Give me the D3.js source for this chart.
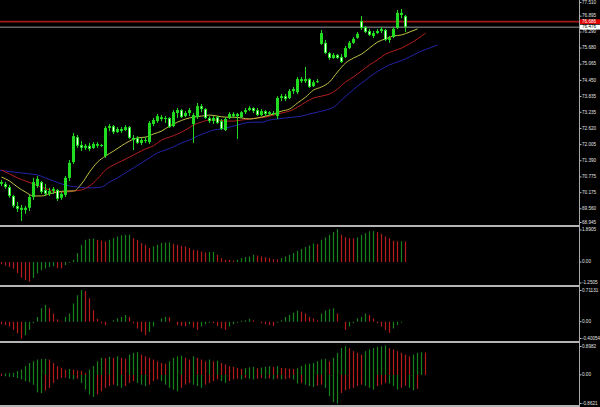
<!DOCTYPE html>
<html><head><meta charset="utf-8">
<script src="https://cdn.jsdelivr.net/npm/d3@7"></script>
<style>html,body{margin:0;padding:0;background:#000;overflow:hidden}svg{display:block}</style>
</head><body>
<svg id="c" width="600" height="407"></svg>
<script>
// ---------- DATA ----------
const openP=[70.58,70.51,70.39,70.05,69.67,69.60,69.52,69.60,70.01,70.43,
70.58,70.28,70.13,70.24,70.28,69.98,70.09,70.74,71.34,72.29,
71.99,71.88,71.96,71.88,72.03,71.96,71.57,72.64,72.71,72.48,
72.60,72.56,72.67,72.26,72.26,72.07,72.18,72.10,72.79,72.90,
73.05,72.98,73.02,72.71,73.21,73.32,73.09,73.21,72.79,73.05,
73.47,73.36,73.02,72.90,73.05,72.90,72.56,73.02,73.17,73.09,
73.05,73.24,73.32,73.40,73.32,73.13,73.28,73.17,73.21,73.09,
73.78,73.85,73.78,74.04,74.00,74.50,74.42,74.50,74.23,74.38,
75.84,75.88,75.49,75.30,75.42,75.34,75.34,75.68,75.88,76.07,
76.71,76.48,76.33,76.14,76.25,76.33,76.37,75.99,76.10,76.44,
77.02,76.90];
const highP=[70.66,70.58,70.47,70.09,69.82,69.71,69.67,70.09,70.74,70.81,
70.62,70.51,70.36,70.39,70.32,70.20,70.81,71.42,72.45,72.37,
72.14,72.03,72.07,72.10,72.10,72.03,72.71,72.79,72.75,72.67,
72.67,72.75,72.71,72.37,72.33,72.26,72.29,72.90,73.02,73.17,
73.13,73.09,73.05,73.32,73.40,73.36,73.28,73.40,73.21,73.59,
73.55,73.40,73.09,73.09,73.09,72.98,73.05,73.24,73.24,73.21,
73.28,73.40,73.47,73.43,73.40,73.36,73.32,73.28,73.28,73.85,
73.93,73.93,74.12,74.20,74.58,74.58,74.96,74.54,74.46,74.50,
76.37,75.99,75.53,75.49,75.45,75.45,75.76,75.95,76.10,76.29,
76.90,76.52,76.41,76.33,76.41,76.48,76.41,76.14,76.48,77.13,
77.17,76.94];
const lowP=[70.43,70.32,69.98,69.60,69.44,69.10,69.37,69.48,69.90,70.36,
70.13,70.05,70.05,70.13,69.86,69.90,70.01,70.62,71.27,71.88,
71.76,71.80,71.76,71.84,71.88,71.92,71.50,72.52,72.41,72.45,
72.45,72.52,72.22,71.80,72.03,71.99,72.07,72.03,72.71,72.83,
72.90,72.83,72.64,72.67,73.02,73.02,73.05,73.09,72.07,72.98,
73.24,72.98,72.83,72.79,72.79,72.56,72.52,72.98,73.02,72.22,
73.02,73.17,73.28,73.21,73.09,73.09,73.09,73.13,73.13,72.98,
73.66,73.66,73.74,73.93,73.93,74.35,74.35,74.16,74.20,74.35,
75.80,75.45,75.23,75.27,75.27,75.11,75.30,75.64,75.84,76.03,
76.37,76.25,76.14,76.06,76.22,76.25,75.95,75.88,76.06,76.41,
76.82,76.29];
const closeP=[70.51,70.39,70.05,69.67,69.56,69.52,69.60,70.01,70.58,70.70,
70.20,70.13,70.24,70.32,69.94,70.13,70.74,71.31,72.33,71.96,
71.88,71.96,71.84,72.03,71.96,71.99,72.64,72.71,72.48,72.60,
72.52,72.67,72.26,72.18,72.07,72.18,72.14,72.83,72.94,73.09,
72.98,73.02,72.67,73.24,73.32,73.05,73.21,73.32,73.13,73.47,
73.36,73.02,72.90,73.02,72.83,72.60,72.98,73.17,73.09,73.17,
73.24,73.32,73.40,73.28,73.13,73.28,73.17,73.24,73.17,73.78,
73.85,73.74,74.04,74.12,74.50,74.42,74.50,74.20,74.38,74.42,
76.25,75.49,75.30,75.42,75.30,75.15,75.68,75.88,76.03,76.22,
76.44,76.29,76.18,76.25,76.33,76.41,75.99,76.06,76.41,77.02,
76.94,76.476];

// Alligator lines, one reading every 2 bars, starting at the given bar index
const lipsStart=0, teethStart=0, jawStart=-1, lineStep=2;
const lips=[70.77,70.62,70.39,70.20,70.05,70.05,70.13,70.20,70.24,70.24,70.51,70.96,71.34,71.57,71.76,71.96,72.14,72.26,72.29,72.41,72.52,72.71,72.86,72.98,73.05,73.09,73.13,73.09,73.05,73.05,73.02,72.98,73.02,73.09,73.17,73.28,73.36,73.59,73.81,74.08,74.20,74.39,74.77,75.11,75.30,75.45,75.68,75.91,76.03,76.14,76.18,76.29,76.41];
const teeth=[71.04,70.89,70.74,70.62,70.51,70.39,70.28,70.20,70.20,70.24,70.28,70.43,70.70,71.04,71.23,71.38,71.53,71.69,71.84,71.96,72.18,72.29,72.41,72.56,72.75,72.86,72.94,72.94,72.90,72.90,72.94,72.98,73.02,73.05,73.13,73.21,73.28,73.43,73.62,73.78,73.85,73.93,74.12,74.39,74.58,74.81,75.04,75.23,75.45,75.57,75.68,75.84,76.03,76.25];
const jaw=[71.04,71.00,70.96,70.93,70.89,70.85,70.74,70.62,70.51,70.43,70.39,70.36,70.36,70.39,70.58,70.74,70.93,71.12,71.31,71.50,71.69,71.80,71.92,72.07,72.18,72.33,72.45,72.56,72.60,72.67,72.75,72.83,72.86,72.86,72.94,72.98,73.02,73.05,73.09,73.17,73.24,73.32,73.43,73.70,73.97,74.23,74.46,74.69,74.88,75.04,75.15,75.27,75.42,75.57,75.68,75.80];

const ao=[-0.12,-0.18,-0.26,-0.36,-0.60,-0.85,-0.98,-1.06,-0.87,-0.62,
-0.45,-0.35,-0.27,-0.22,-0.33,-0.34,-0.16,-0.05,0.13,0.49,
0.95,1.22,1.27,1.29,1.22,1.18,1.13,1.22,1.31,1.40,
1.46,1.49,1.50,1.31,1.22,1.04,0.95,0.77,0.86,0.95,
1.04,1.07,1.08,1.00,0.95,0.89,0.86,0.77,0.67,0.64,
0.58,0.53,0.55,0.56,0.40,0.22,0.13,0.12,0.09,0.13,
0.22,0.27,0.31,0.40,0.36,0.31,0.27,0.22,0.16,0.15,
0.22,0.31,0.40,0.49,0.62,0.72,0.82,0.91,1.02,0.99,
1.22,1.35,1.49,1.64,1.80,1.49,1.37,1.31,1.30,1.35,
1.49,1.58,1.68,1.69,1.64,1.53,1.40,1.31,1.17,1.13,
1.14,1.12];
const ac=[-0.05,-0.07,-0.10,-0.17,-0.24,-0.35,-0.28,-0.17,-0.03,0.10,
0.28,0.35,0.28,0.17,0.05,0.01,0.10,0.17,0.38,0.55,
0.66,0.64,0.49,0.24,0.06,-0.03,-0.07,0.00,0.03,0.07,
0.10,0.14,0.10,-0.03,-0.14,-0.21,-0.28,-0.21,-0.10,0.00,
0.07,0.10,0.09,0.00,-0.07,-0.09,-0.095,-0.05,-0.12,-0.17,
-0.10,-0.05,-0.02,-0.03,-0.09,-0.14,-0.17,-0.10,-0.05,-0.02,
0.02,0.03,0.06,0.03,0.00,-0.03,-0.05,-0.07,-0.09,-0.02,
0.03,0.10,0.14,0.19,0.23,0.21,0.17,0.10,0.07,0.03,
0.17,0.23,0.26,0.28,0.17,0.00,-0.17,-0.10,-0.03,0.07,
0.10,0.17,0.14,0.07,-0.03,-0.10,-0.17,-0.23,-0.14,-0.07,
-0.02,0.00];
const gatorUp=[0.04,0.04,0.05,0.06,0.11,0.15,0.25,0.34,0.39,0.44,
0.45,0.46,0.44,0.34,0.25,0.20,0.15,0.17,0.15,0.13,
0.11,0.06,0.15,0.25,0.39,0.49,0.48,0.52,0.49,0.53,
0.49,0.46,0.58,0.63,0.65,0.58,0.53,0.49,0.44,0.39,
0.34,0.32,0.39,0.49,0.53,0.55,0.49,0.44,0.53,0.49,
0.44,0.39,0.44,0.39,0.41,0.34,0.30,0.25,0.23,0.20,
0.17,0.19,0.21,0.23,0.19,0.21,0.23,0.25,0.23,0.25,
0.20,0.19,0.18,0.17,0.19,0.25,0.30,0.32,0.34,0.39,
0.44,0.46,0.39,0.49,0.63,0.77,0.82,0.77,0.68,0.63,
0.58,0.68,0.73,0.77,0.80,0.82,0.84,0.77,0.73,0.68,
0.63,0.58,0.53,0.58,0.63,0.65,0.64];
const gatorDown=[-0.03,-0.04,-0.05,-0.06,-0.09,-0.13,-0.18,-0.21,-0.28,-0.50,
-0.52,-0.45,-0.37,-0.23,-0.13,-0.09,-0.08,-0.11,-0.13,-0.11,
-0.23,-0.42,-0.56,-0.63,-0.56,-0.47,-0.37,-0.32,-0.28,-0.32,
-0.37,-0.32,-0.23,-0.18,-0.23,-0.28,-0.32,-0.28,-0.18,-0.13,
-0.18,-0.28,-0.37,-0.42,-0.47,-0.37,-0.28,-0.23,-0.28,-0.32,
-0.37,-0.28,-0.23,-0.18,-0.13,-0.18,-0.23,-0.18,-0.13,-0.11,
-0.13,-0.09,-0.11,-0.13,-0.11,-0.09,-0.11,-0.10,-0.13,-0.11,
-0.13,-0.12,-0.10,-0.13,-0.25,-0.23,-0.28,-0.32,-0.35,-0.31,
-0.28,-0.37,-0.61,-0.78,-0.82,-0.52,-0.44,-0.40,-0.37,-0.32,
-0.28,-0.31,-0.37,-0.42,-0.32,-0.28,-0.23,-0.25,-0.32,-0.42,
-0.37,-0.31,-0.37,-0.44,-0.40];

const priceTicks=["77.510","76.895","76.290","75.680","75.065","74.450","73.835","73.235","72.620","72.005","71.390","70.775","70.175","69.560","68.945"];
const aoTicks=["1.8905","0.00","-1.2505"];
const acTicks=["0.71131","0.00","-0.40054"];
const gatorTicks=["0.8982","0.00","-0.8621"];
const askPrice=76.686, bidPrice=76.476;
const askLabel="76.686", bidLabel="76.476";

// ---------- DRAW ----------
const W=600,H=407,plotR=579.5;
const svg=d3.select("#c");
svg.append("rect").attr("width",W).attr("height",H).attr("fill","#000");

const x=d3.scaleLinear().domain([0,100]).range([1,401]);
const yP=d3.scaleLinear().domain([68.945,77.51]).range([225,0]);
const yAO=d3.scaleLinear().domain([-1.2505,1.8905]).range([285,227.5]);
const yAC=d3.scaleLinear().domain([-0.40054,0.71131]).range([341,287.5]);
const yG=d3.scaleLinear().domain([-0.8621,0.8982]).range([405,343.5]);

const GREEN="#18821c", RED="#b41c1c";

// ask / bid lines
svg.append("line").attr("x1",0).attr("x2",plotR).attr("y1",yP(askPrice)).attr("y2",yP(askPrice))
  .attr("stroke","#a01818").attr("stroke-width",1.6);
svg.append("line").attr("x1",0).attr("x2",plotR).attr("y1",yP(bidPrice)).attr("y2",yP(bidPrice))
  .attr("stroke","#9a9a9a").attr("stroke-width",1);

// alligator lines
function linePts(arr,start){return arr.map((v,k)=>[x(start+k*lineStep)+0.5,yP(v)]);}
const lg=d3.line().curve(d3.curveMonotoneX);
[[jaw,jawStart,"#2424a8"],[teeth,teethStart,"#b41e1e"],[lips,lipsStart,"#c2c248"]].forEach(([arr,st,col])=>{
  svg.append("path").attr("d",lg(linePts(arr,st))).attr("fill","none").attr("stroke",col).attr("stroke-width",1);
});

// candles
const bars=d3.range(closeP.length).map(i=>({i,o:openP[i],h:highP[i],l:lowP[i],c:closeP[i]}));
const cg=svg.append("g");
cg.selectAll("line").data(bars).join("line")
  .attr("x1",d=>x(d.i)+0.5).attr("x2",d=>x(d.i)+0.5)
  .attr("y1",d=>yP(d.h)).attr("y2",d=>yP(d.l))
  .attr("stroke","#22dc22").attr("stroke-width",1);
cg.selectAll("rect.b").data(bars).join("rect").attr("class","b")
  .attr("x",d=>x(d.i)-1).attr("width",3)
  .attr("y",d=>yP(Math.max(d.o,d.c)))
  .attr("height",d=>Math.max(1,Math.abs(yP(d.o)-yP(d.c))))
  .attr("fill","#22dc22");
cg.selectAll("rect.w").data(bars.filter(d=>d.c<d.o && Math.abs(yP(d.o)-yP(d.c))>2.5)).join("rect").attr("class","w")
  .attr("x",d=>x(d.i)).attr("width",1)
  .attr("y",d=>yP(d.o)+1)
  .attr("height",d=>Math.abs(yP(d.o)-yP(d.c))-2)
  .attr("fill","#ffffff");

// histograms
function hist(arr,yS,cmp){
  const g=svg.append("g");
  g.selectAll("line").data(arr.map((v,i)=>({v,i}))).join("line")
   .attr("x1",d=>x(d.i)+0.5).attr("x2",d=>x(d.i)+0.5)
   .attr("y1",yS(0)).attr("y2",d=>yS(d.v))
   .attr("stroke",d=>cmp(d.i,arr)?GREEN:RED).attr("stroke-width",1.2);
}
const rising=(i,a)=>i>0 && a[i]>a[i-1];
const growing=(i,a)=>i>0 && Math.abs(a[i])>=Math.abs(a[i-1]);
hist(ao,yAO,rising);
hist(ac,yAC,rising);
hist(gatorUp,yG,growing);
hist(gatorDown,yG,growing);

// separators and axis line
[226,286,342,406].forEach(yy=>svg.append("line").attr("x1",0).attr("x2",plotR).attr("y1",yy).attr("y2",yy)
  .attr("stroke","#b4b4b4").attr("stroke-width",2));
svg.append("line").attr("x1",plotR).attr("x2",plotR).attr("y1",0).attr("y2",H).attr("stroke","#a8a8a8").attr("stroke-width",1);

// axis labels
const font="Liberation Sans, Arial, sans-serif";
function labels(ticks,yS,top,bot){
  ticks.forEach(t=>{
    let yy=yS(+t);
    yy=Math.max(top,Math.min(bot,yy));
    svg.append("line").attr("x1",plotR).attr("x2",plotR+2).attr("y1",yy).attr("y2",yy).attr("stroke","#bdbdbd");
    svg.append("text").attr("x",582).attr("y",yy).attr("dominant-baseline","middle")
      .attr("font-family",font).attr("font-size",4.6).attr("fill","#e2e2e2").text(t);
  });
}
labels(priceTicks,yP,2.6,222.5);
labels(aoTicks,yAO,230,283);
labels(acTicks,yAC,290.5,338.5);
labels(gatorTicks,yG,346.5,403.5);

// price boxes
function box(p,label,bg,fg){
  const yy=yP(p);
  svg.append("rect").attr("x",580).attr("y",yy-2.4).attr("width",20).attr("height",4.8).attr("fill",bg);
  svg.append("text").attr("x",582).attr("y",yy).attr("dominant-baseline","middle")
    .attr("font-family",font).attr("font-size",4.6).attr("fill",fg).text(label);
}
box(askPrice,askLabel,"#e00000","#ffffff");
box(bidPrice,bidLabel,"#ffffff","#000000");
</script>
</body></html>
